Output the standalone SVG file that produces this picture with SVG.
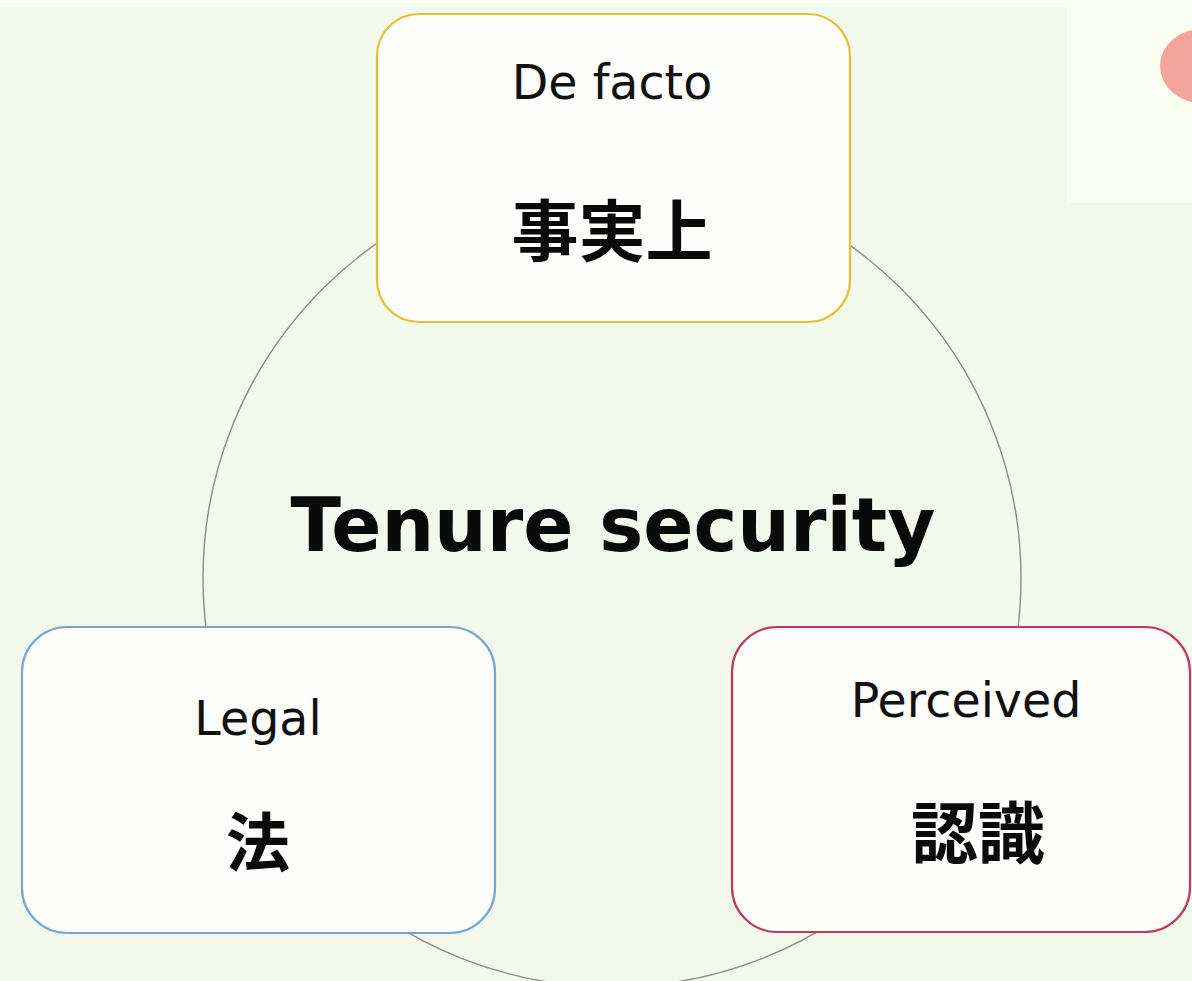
<svg xmlns="http://www.w3.org/2000/svg" width="1192" height="981" viewBox="0 0 1192 981">
<style>
.box{fill:#fdfdfc;stroke-width:2.2}
.lat{font-family:"DejaVu Sans","Liberation Sans",sans-serif;font-size:47.5px;fill:#111;text-anchor:middle}
.cjk{font-family:"Noto Sans CJK JP","Noto Sans CJK SC",sans-serif;font-weight:bold;fill:#0a0a0a;text-anchor:middle}
.title{font-family:"DejaVu Sans","Liberation Sans",sans-serif;font-weight:bold;font-size:74px;fill:#0a0a0a;text-anchor:middle}
</style>
<rect x="0" y="0" width="1192" height="981" fill="#f3f8ed"/>
<rect x="0" y="0" width="1192" height="7" fill="#f8fdf1"/>
<rect x="1067" y="0" width="125" height="203" fill="#f8fef0"/>
<ellipse cx="1202" cy="66" rx="42" ry="37" fill="#f5a49b"/>
<g id="connectors">
<circle cx="612" cy="578" r="409" fill="none" stroke="#8c8c84" stroke-width="1.4"/>
</g>
<g id="title">
<text class="title" x="613" y="551">Tenure security</text>
</g>
<g id="node-defacto">
<rect class="box" x="377" y="14" width="473" height="308" rx="42" stroke="#e2c233"/>
<text class="lat" x="612" y="99">De facto</text>
<text class="cjk" x="612" y="256" font-size="67">事実上</text>
</g>
<g id="node-legal">
<rect class="box" x="22" y="627" width="473" height="306" rx="45" stroke="#7aa3d4"/>
<text class="lat" x="258" y="735">Legal</text>
<text class="cjk" x="258" y="866" font-size="64">法</text>
</g>
<g id="node-perceived">
<rect class="box" x="732" y="627" width="458" height="305" rx="45" stroke="#c2375a"/>
<text class="lat" x="966" y="717">Perceived</text>
<text class="cjk" x="978" y="858" font-size="67">認識</text>
</g>
</svg>
